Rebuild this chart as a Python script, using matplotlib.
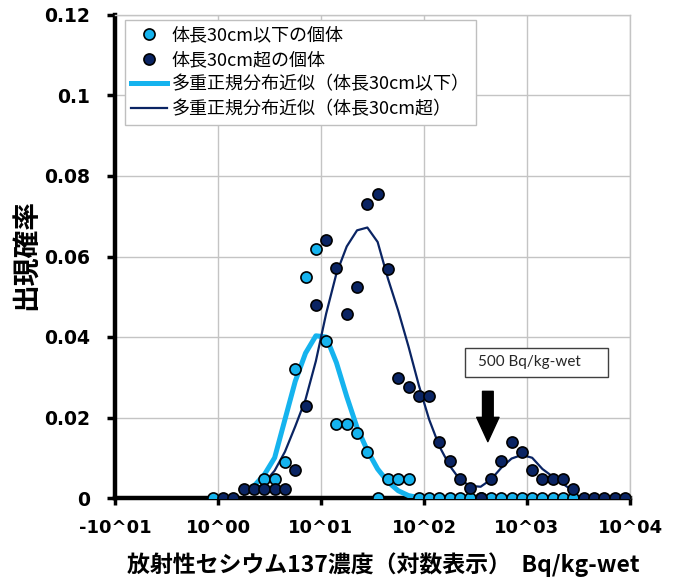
import matplotlib
matplotlib.use("Agg")
import matplotlib.pyplot as plt
from matplotlib.patches import Rectangle

plt.rcParams['font.family'] = ['Noto Sans CJK JP', 'DejaVu Sans']

# ---- data (log10 of Bq/kg-wet, probability) ----
small_x = [-0.05, 0.45, 0.55, 0.65, 0.75, 0.85, 0.95, 1.05, 1.15, 1.25, 1.35, 1.45,
           1.55, 1.65, 1.75, 1.85, 1.95, 2.05, 2.15, 2.25, 2.35, 2.45, 2.55, 2.65,
           2.75, 2.85, 2.95, 3.05, 3.15, 3.25, 3.35, 3.45]
small_y = [0.0, 0.0047, 0.0047, 0.0090, 0.0320, 0.0548, 0.0618, 0.0390, 0.0185, 0.0185,
           0.0162, 0.0115, 0.0, 0.0047, 0.0047, 0.0047, 0.0, 0.0, 0.0, 0.0, 0.0, 0.0,
           0.0, 0.0, 0.0, 0.0, 0.0, 0.0, 0.0, 0.0, 0.0, 0.0]

large_x = [0.05, 0.15, 0.25, 0.35, 0.45, 0.55, 0.65, 0.75, 0.85, 0.95, 1.05, 1.15,
           1.25, 1.35, 1.45, 1.55, 1.65, 1.75, 1.85, 1.95, 2.05, 2.15, 2.25, 2.35,
           2.45, 2.55, 2.65, 2.75, 2.85, 2.95, 3.05, 3.15, 3.25, 3.35, 3.45, 3.55,
           3.65, 3.75, 3.85, 3.95]
large_y = [0.0, 0.0, 0.0023, 0.0023, 0.0023, 0.0023, 0.0023, 0.0069, 0.0229, 0.0480,
           0.0641, 0.0571, 0.0457, 0.0525, 0.0730, 0.0755, 0.0570, 0.0297, 0.0275,
           0.0253, 0.0253, 0.0140, 0.0092, 0.0048, 0.0025, 0.0, 0.0047, 0.0092,
           0.0138, 0.0115, 0.0069, 0.0046, 0.0046, 0.0046, 0.0023, 0.0, 0.0, 0.0,
           0.0, 0.0]

small_fit_x = [0.35, 0.45, 0.55, 0.65, 0.75, 0.85, 0.95, 1.05, 1.15, 1.25, 1.35, 1.45,
               1.55, 1.65, 1.75, 1.85, 1.95]
small_fit_y = [0.0030, 0.0058, 0.0100, 0.0195, 0.0290, 0.0360, 0.0403, 0.0400, 0.0336,
               0.0252, 0.0175, 0.0118, 0.0072, 0.0040, 0.0018, 0.0006, 0.0001]

large_fit_x = [0.25, 0.35, 0.45, 0.55, 0.65, 0.75, 0.85, 0.95, 1.05, 1.15, 1.25, 1.35,
               1.45, 1.55, 1.65, 1.75, 1.85, 1.95, 2.05, 2.15, 2.25, 2.35, 2.45, 2.55,
               2.65, 2.75, 2.85, 2.95, 3.05, 3.15, 3.25, 3.35, 3.45]
large_fit_y = [0.0008, 0.0018, 0.0038, 0.0068, 0.0115, 0.0178, 0.0245, 0.0340, 0.0458,
               0.0558, 0.0625, 0.0665, 0.0672, 0.0636, 0.0545, 0.0465, 0.0376, 0.0280,
               0.0195, 0.0128, 0.0080, 0.0045, 0.0030, 0.0028, 0.0046, 0.0075, 0.0098,
               0.0107, 0.0100, 0.0072, 0.0053, 0.0035, 0.0017]

x_ticks = [-1, 0, 1, 2, 3, 4]
x_ticklabels = ['-10^01', '10^00', '10^01', '10^02', '10^03', '10^04']
y_ticks = [0, 0.02, 0.04, 0.06, 0.08, 0.1, 0.12]
y_ticklabels = ['0', '0.02', '0.04', '0.06', '0.08', '0.1', '0.12']

labels = ['体長30cm以下の個体', '体長30cm超の個体',
          '多重正規分布近似（体長30cm以下）', '多重正規分布近似（体長30cm超）']

LIGHT = '#15B3EE'
DARK = '#0A2463'

fig = plt.figure(figsize=(6.79, 5.82), dpi=100)
ax = fig.add_axes([115/679, 1 - 498/582, 515/679, 483/582])

l_pts, = ax.plot(small_x, small_y, 'o', ms=8, mfc=LIGHT, mec='black', mew=1.2,
                 zorder=4, label=labels[0])
d_pts, = ax.plot(large_x, large_y, 'o', ms=8, mfc=DARK, mec='black', mew=1.2,
                 zorder=5, label=labels[1])
l_fit, = ax.plot(small_fit_x, small_fit_y, '-', color=LIGHT, lw=3.6, zorder=2,
                 label=labels[2])
d_fit, = ax.plot(large_fit_x, large_fit_y, '-', color=DARK, lw=1.6, zorder=3,
                 label=labels[3])

ax.set_xlim(-1, 4)
ax.set_ylim(0, 0.12)
ax.set_xticks(x_ticks)
ax.set_xticklabels(x_ticklabels, fontfamily='DejaVu Sans', fontweight='bold', fontsize=13)
ax.set_yticks(y_ticks)
ax.set_yticklabels(y_ticklabels, fontfamily='DejaVu Sans', fontweight='bold', fontsize=13.5)
ax.tick_params(axis='y', direction='out', length=6, width=2.5, pad=12, color='black')
ax.tick_params(axis='x', direction='out', length=5, width=2.5, pad=10, color='black')

ax.grid(True, color='#C4C4C4', lw=1.0, zorder=0)
ax.set_axisbelow(True)
for s in ['top', 'right']:
    ax.spines[s].set_color('#C4C4C4')
    ax.spines[s].set_linewidth(1.0)
ax.spines['left'].set_linewidth(3.2)
ax.spines['bottom'].set_linewidth(3.2)
ax.spines['left'].set_zorder(1)
ax.spines['bottom'].set_zorder(1)

leg = ax.legend(handles=[l_pts, d_pts, l_fit, d_fit], loc='upper left',
                bbox_to_anchor=(10/515, 1 - 5/483), borderaxespad=0,
                prop={'family': ['Noto Sans CJK JP', 'DejaVu Sans'], 'size': 13},
                frameon=True, fancybox=False, edgecolor='#BFBFBF', framealpha=1,
                handlelength=1.95, handletextpad=0.3, labelspacing=0.37,
                borderpad=0.35)
leg.get_frame().set_linewidth(1.0)

# annotation: 500 Bq/kg-wet
ax.add_patch(Rectangle((2.398, 0.0301), 1.388, 0.0072, transform=ax.transData,
                       fill=True, facecolor='white', edgecolor='#404040', lw=1.0,
                       zorder=6))
ax.text(2.524, 0.0337, '500 Bq/kg-wet', fontfamily='Lato', fontsize=11,
        ha='left', va='center', zorder=7, color='#262626')
ax.annotate('', xy=(2.62, 0.0140), xytext=(2.62, 0.0265),
            arrowprops=dict(arrowstyle='simple,head_length=1.25,head_width=1.15,tail_width=0.55',
                            color='black', mutation_scale=14, shrinkA=0, shrinkB=0),
            zorder=7)

fig.text(27/679, 1 - 255/582, '出現確率', rotation=90, ha='center', va='center',
         fontsize=20, fontweight='bold', family=['Noto Sans CJK JP', 'DejaVu Sans'])
fig.text(383/679, 1 - 565/582, '放射性セシウム137濃度（対数表示）  Bq/kg-wet',
         ha='center', va='center', fontsize=16.5, fontweight='bold',
         family=['Noto Sans CJK JP', 'DejaVu Sans'])

fig.savefig('out.png', dpi=100)
